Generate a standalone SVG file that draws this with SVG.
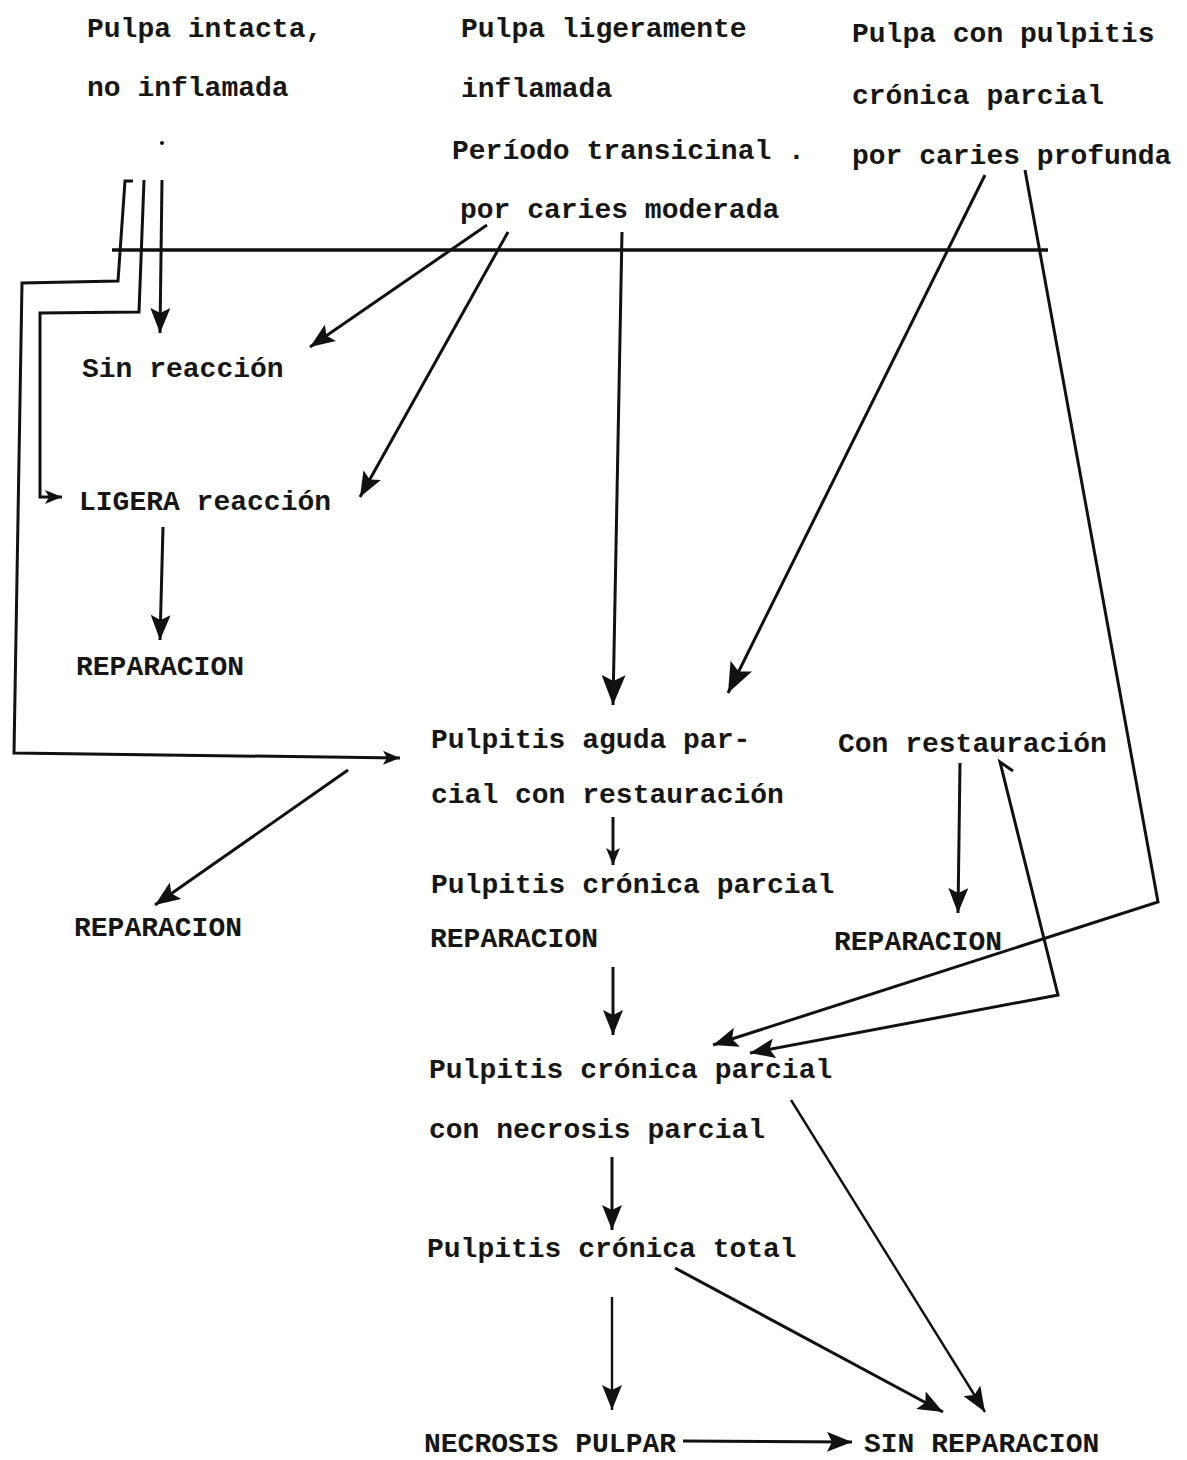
<svg xmlns="http://www.w3.org/2000/svg" width="1187" height="1460" viewBox="0 0 1187 1460">
<defs>
<style>
text{font-family:"Liberation Mono","DejaVu Sans Mono",monospace;font-size:28px;font-weight:bold;fill:#161616}
.c{fill:none;stroke:#111;stroke-width:3;stroke-linejoin:miter}
.t{stroke-width:2.4}
.k{stroke-width:3.6}
</style>
<marker id="a" markerUnits="userSpaceOnUse" markerWidth="25" markerHeight="20" refX="25" refY="10" orient="auto"><path d="M0,0 L25,10 L0,20 L5,10 Z" fill="#111"/></marker>
<marker id="b" markerUnits="userSpaceOnUse" markerWidth="30" markerHeight="24" refX="30" refY="12" orient="auto"><path d="M0,0 L30,12 L0,24 L6,12 Z" fill="#111"/></marker>
<marker id="s" markerUnits="userSpaceOnUse" markerWidth="17" markerHeight="14" refX="17" refY="7" orient="auto"><path d="M0,0 L17,7 L0,14 L4,7 Z" fill="#111"/></marker>
</defs>
<rect width="1187" height="1460" fill="#fff"/>

<g id="n-intacta"><text x="87" y="37">Pulpa intacta,</text><text x="87" y="96">no inflamada</text><circle cx="162" cy="143" r="2" fill="#111"/></g>
<g id="n-ligera"><text x="461" y="37">Pulpa ligeramente</text><text x="461" y="97">inflamada</text><text x="452" y="159">Período transicinal .</text><text x="460" y="218">por caries moderada</text></g>
<g id="n-cronica"><text x="852" y="42">Pulpa con pulpitis</text><text x="852" y="104">crónica parcial</text><text x="852" y="164">por caries profunda</text></g>
<g id="n-sin"><text x="82" y="377">Sin reacción</text></g>
<g id="n-ligera-reac"><text x="79" y="510">LIGERA reacción</text></g>
<g id="n-rep1"><text x="76" y="675">REPARACION</text></g>
<g id="n-aguda"><text x="431" y="748">Pulpitis aguda par-</text><text x="431" y="803">cial con restauración</text></g>
<g id="n-conrest"><text x="838" y="752">Con restauración</text></g>
<g id="n-rep2"><text x="74" y="936">REPARACION</text></g>
<g id="n-cronparc"><text x="431" y="893">Pulpitis crónica parcial</text><text x="430" y="947">REPARACION</text></g>
<g id="n-rep3"><text x="834" y="950">REPARACION</text></g>
<g id="n-necparc"><text x="429" y="1078">Pulpitis crónica parcial</text><text x="429" y="1138">con necrosis parcial</text></g>
<g id="n-total"><text x="427" y="1257">Pulpitis crónica total</text></g>
<g id="n-necrosis"><text x="424" y="1452">NECROSIS PULPAR</text></g>
<g id="n-sinrep"><text x="864" y="1452">SIN REPARACION</text></g>

<g id="connectors">
<path class="c k" d="M112,250 L1048,250"/>
<path class="c" d="M133,181 L125,181 L118,281 L22,283 L14,753 L400,758" marker-end="url(#s)"/>
<path class="c" d="M144,180 L139,312 L40,313 L40,497 L62,497" marker-end="url(#s)"/>
<path class="c" d="M162,180 L160,333" marker-end="url(#a)"/>
<path class="c" d="M487,225 L310,347" marker-end="url(#a)"/>
<path class="c" d="M508,232 L360,497" marker-end="url(#a)"/>
<path class="c" d="M622,232 L613,705" marker-end="url(#b)"/>
<path class="c" d="M985,175 L728,693" marker-end="url(#b)"/>
<path class="c" d="M1025,170 L1158,902 L713,1045" marker-end="url(#a)"/>
<path class="c" d="M1013,771 L1000,762 L1058,995 L750,1053" marker-end="url(#a)"/>
<path class="c" d="M960,763 L958,913" marker-end="url(#a)"/>
<path class="c" d="M348,770 L155,905" marker-end="url(#a)"/>
<path class="c" d="M163,527 L160,640" marker-end="url(#a)"/>
<path class="c" d="M613,817 L613,865" marker-end="url(#s)"/>
<path class="c" d="M613,967 L613,1035" marker-end="url(#a)"/>
<path class="c" d="M612,1157 L612,1230" marker-end="url(#a)"/>
<path class="c" d="M675,1268 L943,1412" marker-end="url(#a)"/>
<path class="c t" d="M791,1100 L985,1412" marker-end="url(#a)"/>
<path class="c t" d="M612,1297 L612,1410" marker-end="url(#a)"/>
<path class="c" d="M683,1441 L852,1442" marker-end="url(#a)"/>
</g>
</svg>
